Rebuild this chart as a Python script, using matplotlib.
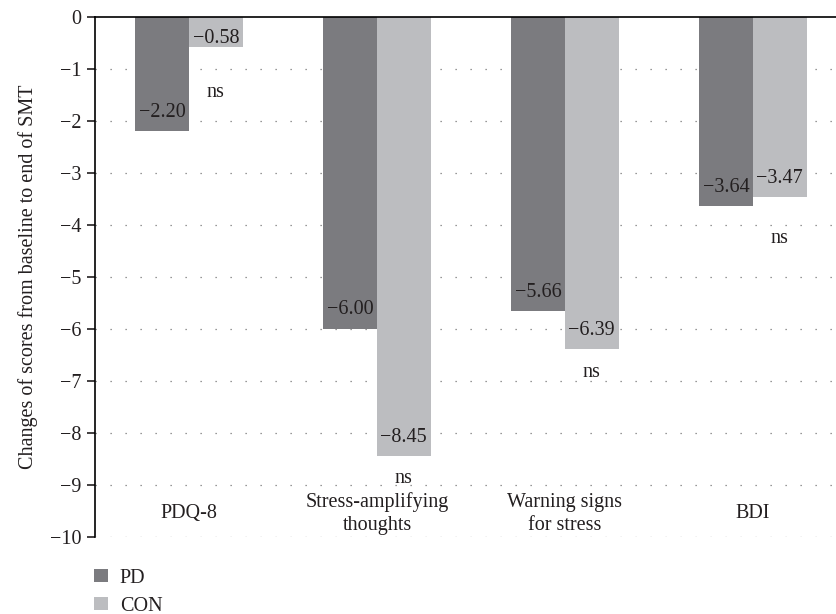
import matplotlib
matplotlib.use('Agg')
import matplotlib.pyplot as plt
import numpy as np

# data
categories = ['PDQ-8', 'Stress-amplifying\nthoughts', 'Warning signs\nfor stress', 'BDI']
pd_values = [-2.20, -6.00, -5.66, -3.64]
con_values = [-0.58, -8.45, -6.39, -3.47]
ns_offsets = [0.88, 0.42, 0.44, 0.78]  # how far below the CON bar the "ns" sits

fs = 14.5
plt.rcParams['font.family'] = ['Liberation Serif', 'DejaVu Serif']
plt.rcParams['font.size'] = fs
text_color = '#231f20'
pd_color = '#7b7b7f'
con_color = '#bcbdc0'

fig = plt.figure(figsize=(8.36, 6.14), dpi=100)
ax = fig.add_axes([0.1136, 0.1254, 0.8995, 0.8469])

x = np.arange(len(categories))
w = 0.285
bars_pd = ax.bar(x - w / 2, pd_values, w, color=pd_color, label='PD', zorder=2)
bars_con = ax.bar(x + w / 2, con_values, w, color=con_color, label='CON', zorder=2)


def label_y(v):
    # label sits just inside the bar end, but never pokes above the top line
    return min(v + 0.37, -0.42)


# value labels inside the bar ends
for xi, v in zip(x - w / 2, pd_values):
    ax.text(xi, label_y(v), f'{v:.2f}'.replace('-', '\u2212'), ha='center', va='center',
            color=text_color, zorder=3)
for xi, v in zip(x + w / 2, con_values):
    ax.text(xi, label_y(v), f'{v:.2f}'.replace('-', '\u2212'), ha='center', va='center',
            color=text_color, zorder=3)

# "ns" markers under the CON bars
for xi, v, off in zip(x + w / 2, con_values, ns_offsets):
    ax.text(xi, v - off, 'ns', ha='center', va='center', color=text_color, zorder=3)

# category labels sit inside the plot area
for xi, c in zip(x, categories):
    ax.text(xi, -9.55, c, ha='center', va='center', color=text_color,
            linespacing=1.3, zorder=3)

ax.set_xlim(-0.5, len(categories) - 0.5)
ax.set_ylim(-10, 0)
ax.set_yticks(np.arange(0, -11, -1))
ax.set_xticks([])
for yv in range(-1, -11, -1):
    ax.axhline(yv, color='#777777', linewidth=0.9, linestyle=(0, (1, 11)), zorder=1)

ax.spines['right'].set_visible(False)
ax.spines['bottom'].set_visible(False)
ax.spines['top'].set_linewidth(1.2)
ax.spines['left'].set_linewidth(1.2)
ax.tick_params(axis='y', direction='out', length=6, width=1.2, colors=text_color,
               labelsize=fs, pad=4)
ax.set_ylabel('Changes of scores from baseline to end of SMT', color=text_color,
              fontsize=fs, labelpad=8)

fig.legend(handles=[bars_pd, bars_con], labels=['PD', 'CON'], loc='upper left',
           bbox_to_anchor=(0.113, 0.074), frameon=False, handlelength=0.65,
           handleheight=0.65, handletextpad=0.6, labelspacing=0.45, fontsize=fs,
           labelcolor=text_color, borderaxespad=0, borderpad=0)

plt.savefig('out.png', dpi=100)
